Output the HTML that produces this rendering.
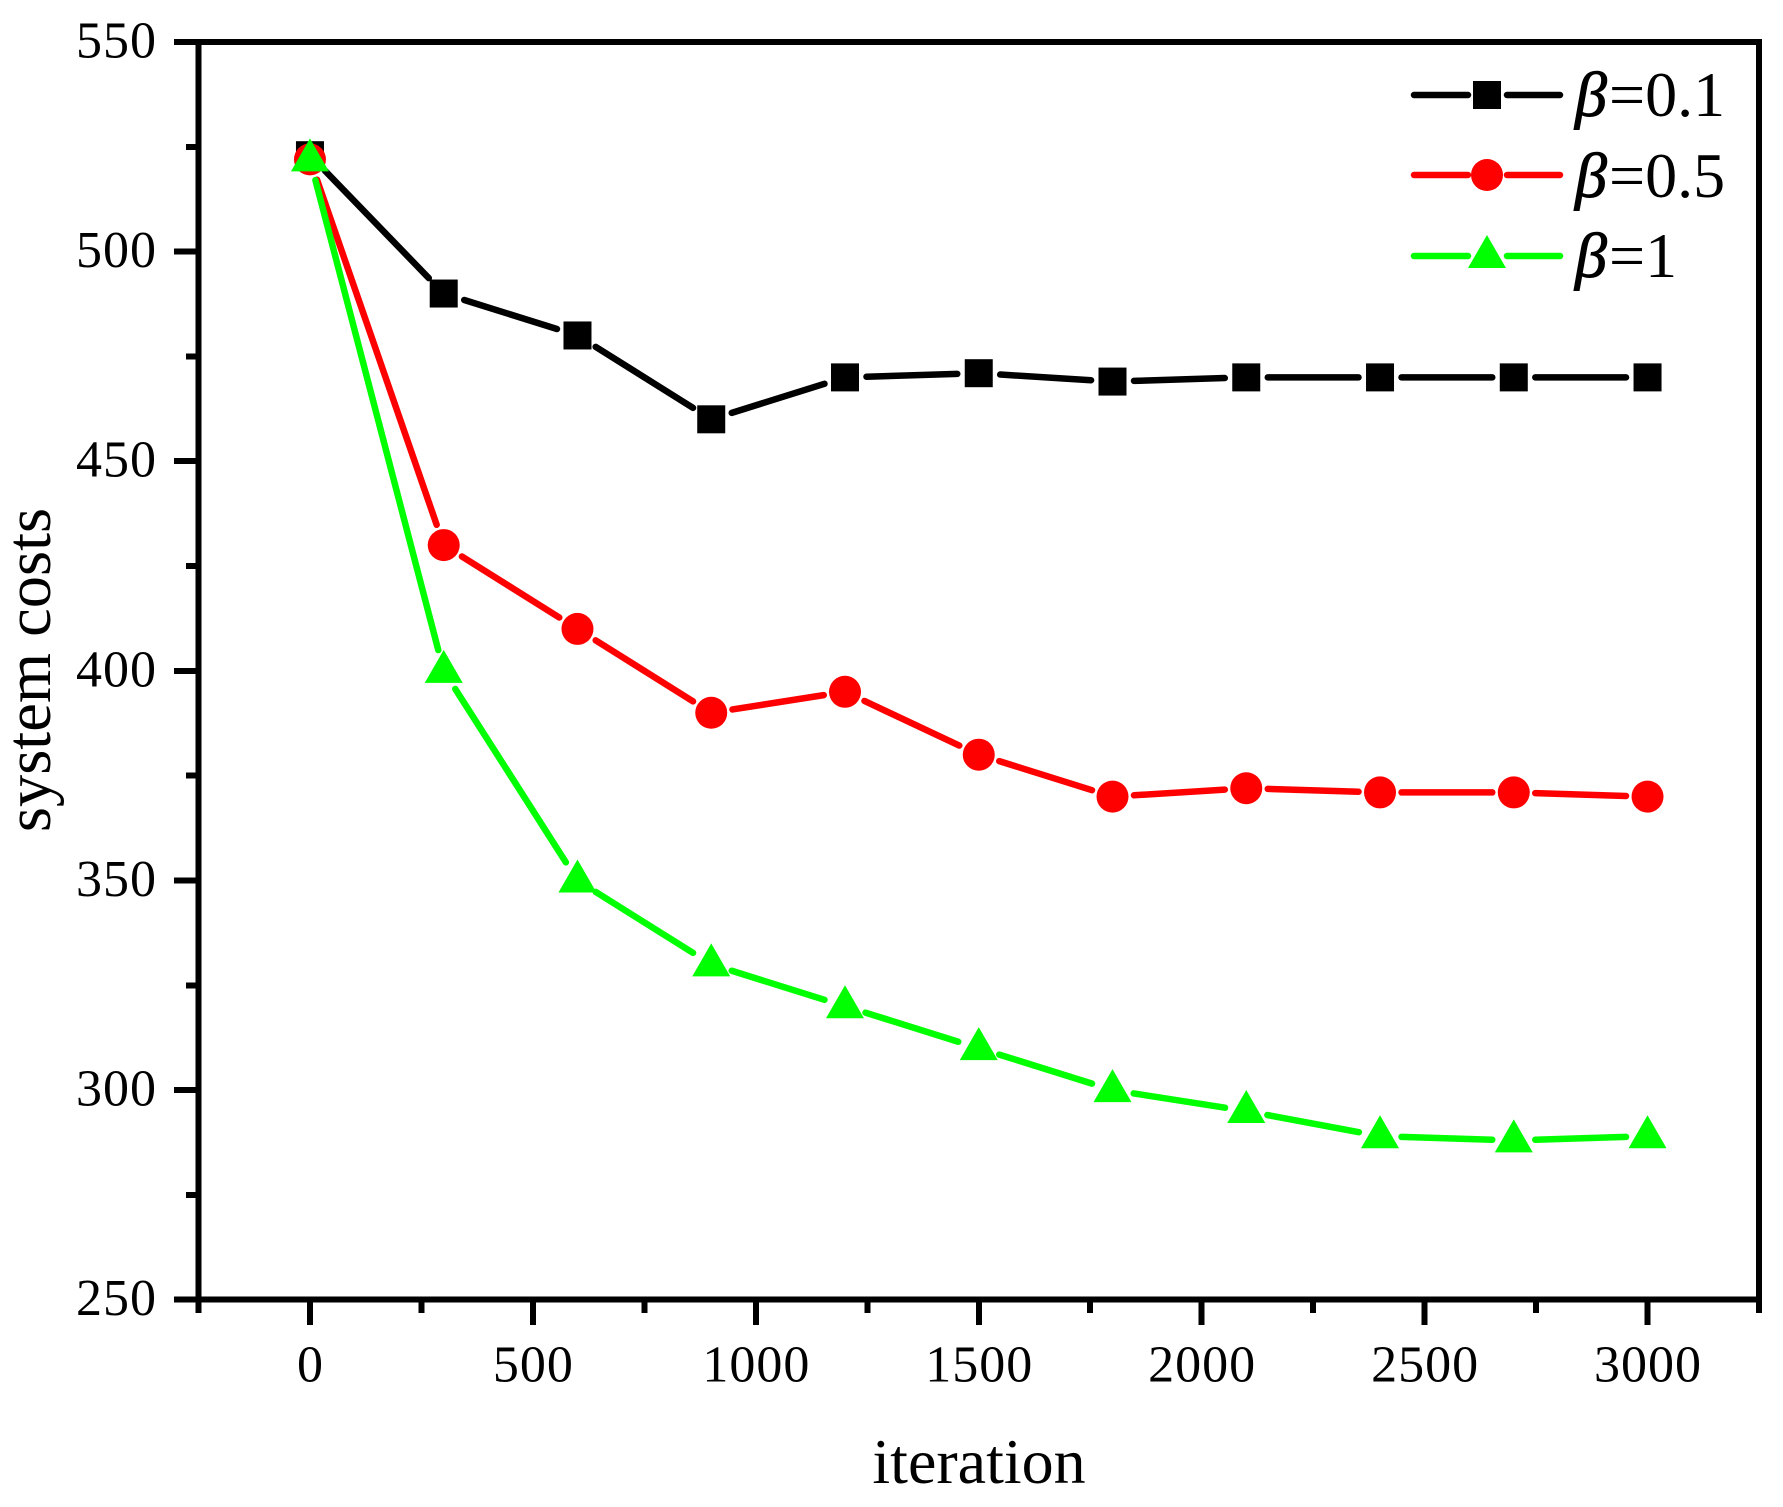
<!DOCTYPE html>
<html lang="en">
<head>
<meta charset="utf-8">
<title>System costs vs iteration</title>
<style>
html,body{margin:0;padding:0;background:#fff;}
svg{display:block;}
text{font-family:"Liberation Serif","Times New Roman",serif;fill:#000;}
</style>
</head>
<body>
<svg id="chart" xmlns="http://www.w3.org/2000/svg" width="1783" height="1507" viewBox="0 0 1783 1507">
  <rect x="0" y="0" width="1783" height="1507" fill="#fff"/>
  <g id="axes"></g>
  <g id="series"></g>
  <g id="legend"></g>
  <text x="979" y="1483" font-size="64" text-anchor="middle">iteration</text>
  <text x="0" y="0" font-size="64.5" text-anchor="middle" transform="translate(50,670) rotate(-90)">system costs</text>
</svg>
<script>
const iterations = [0, 300, 600, 900, 1200, 1500, 1800, 2100, 2400, 2700, 3000];
const beta01Costs = [523, 490, 480, 460, 470, 471, 469, 470, 470, 470, 470];
const beta05Costs = [522, 430, 410, 390, 395, 380, 370, 372, 371, 371, 370];
const beta1Costs = [522, 400, 350, 330, 320, 310, 300, 295, 289, 288, 289];
const seriesNames = ["beta-0.1", "beta-0.5", "beta-1"];
const legendValues = ["0.1", "0.5", "1"];
const xMajorTicks = [0, 500, 1000, 1500, 2000, 2500, 3000];
const xMinorTicks = [-250, 250, 750, 1250, 1750, 2250, 2750, 3250];
const yMajorTicks = [250, 300, 350, 400, 450, 500, 550];
const yMinorTicks = [275, 325, 375, 425, 475, 525];

const NS = "http://www.w3.org/2000/svg";
const plot = {left: 198.5, right: 1759, top: 42, bottom: 1299.7};
const xDomain = [-250, 3250];
const yDomain = [250, 550];
function xScale(v) { return plot.left + (v - xDomain[0]) / (xDomain[1] - xDomain[0]) * (plot.right - plot.left); }
function yScale(v) { return plot.bottom - (v - yDomain[0]) / (yDomain[1] - yDomain[0]) * (plot.bottom - plot.top); }

function mk(parent, tag, attrs) {
  const el = document.createElementNS(NS, tag);
  for (const k in attrs) el.setAttribute(k, attrs[k]);
  parent.appendChild(el);
  return el;
}

const axes = document.getElementById("axes");
const seriesGroup = document.getElementById("series");
const legend = document.getElementById("legend");

function axisLine(x1, y1, x2, y2, w, name) {
  const el = mk(axes, "line", {x1: x1, y1: y1, x2: x2, y2: y2, stroke: "#000", "stroke-width": w, "shape-rendering": "crispEdges"});
  
  
  return el;
}

axisLine(plot.left, plot.top - 3, plot.left, 1313, 6, "y-axis-line");
axisLine(plot.right, plot.top - 3, plot.right, 1313, 6, "right-axis-line");
axisLine(174, plot.top, plot.right + 1, plot.top, 6, "top-axis-line");
axisLine(174, plot.bottom, plot.right + 3, plot.bottom, 6, "x-axis-line");

xMajorTicks.forEach(function (v) {
  const x = xScale(v);
  axisLine(x, plot.bottom, x, 1325, 6, "x-major-tick");
  const t = mk(axes, "text", {x: x + 0.5, y: 1381.5, "font-size": 52, "letter-spacing": 1, "text-anchor": "middle"});
  
  
  t.textContent = String(v);
});
xMinorTicks.forEach(function (v) {
  if (v === xDomain[0] || v === xDomain[1]) return;
  const x = xScale(v);
  axisLine(x, plot.bottom, x, 1313, 6, "x-minor-tick");
});
yMajorTicks.forEach(function (v) {
  const y = yScale(v);
  axisLine(174, y, plot.left, y, 6, "y-major-tick");
  const t = mk(axes, "text", {x: 157, y: y + 15.5, "font-size": 52, "letter-spacing": 1, "text-anchor": "end"});
  
  
  t.textContent = String(v);
});
yMinorTicks.forEach(function (v) {
  const y = yScale(v);
  axisLine(186, y, plot.left, y, 6, "y-minor-tick");
});

function drawMarker(parent, kind, cx, cy, color) {
  let el;
  if (kind === "square") {
    el = mk(parent, "rect", {x: cx - 14, y: cy - 14, width: 28, height: 28, fill: color});
  } else if (kind === "circle") {
    el = mk(parent, "circle", {cx: cx, cy: cy, r: 16, fill: color});
  } else {
    el = mk(parent, "polygon", {points: [cx, cy - 21, cx + 19, cy + 12, cx - 19, cy + 12].join(","), fill: color});
  }
  return el;
}

function drawSegment(parent, x1, y1, x2, y2, gap, color) {
  const dx = x2 - x1, dy = y2 - y1, len = Math.hypot(dx, dy);
  if (len <= 2 * gap) return null;
  const ux = dx / len, uy = dy / len;
  return mk(parent, "line", {
    x1: x1 + ux * gap, y1: y1 + uy * gap,
    x2: x2 - ux * gap, y2: y2 - uy * gap,
    stroke: color, "stroke-width": 6.5, "stroke-linecap": "round"
  });
}

const seriesValues = [beta01Costs, beta05Costs, beta1Costs];
const seriesColors = ["#000000", "#ff0000", "#00ff00"];
const seriesMarkers = ["square", "circle", "triangle"];

seriesValues.forEach(function (values, s) {
  const g = mk(seriesGroup, "g", {});
  
  
  for (let i = 0; i + 1 < values.length; i++) {
    const seg = drawSegment(g, xScale(iterations[i]), yScale(values[i]), xScale(iterations[i + 1]), yScale(values[i + 1]), 21.5, seriesColors[s]);
    if (seg) {
      
      
    }
  }
  values.forEach(function (v, i) {
    const m = drawMarker(g, seriesMarkers[s], xScale(iterations[i]), yScale(v), seriesColors[s]);
    
    
  });
});

const legendRows = [95, 175, 256];
const legendBaselines = [116, 197, 277];
legendRows.forEach(function (cy, s) {
  const g = mk(legend, "g", {});
  
  
  const left = mk(g, "line", {x1: 1414, y1: cy, x2: 1468, y2: cy, stroke: seriesColors[s], "stroke-width": 6.5, "stroke-linecap": "round"});
  
  
  const right = mk(g, "line", {x1: 1507, y1: cy, x2: 1560, y2: cy, stroke: seriesColors[s], "stroke-width": 6.5, "stroke-linecap": "round"});
  
  
  const m = drawMarker(g, seriesMarkers[s], 1487, cy, seriesColors[s]);
  
  
  const t = mk(g, "text", {x: 1575, y: legendBaselines[s], "font-size": 64});
  
  
  const b = mk(t, "tspan", {"font-style": "italic", stroke: "#000", "stroke-width": 1});
  b.textContent = "\u03B2";
  const rest = mk(t, "tspan", {x: 1609});
  rest.textContent = "=" + legendValues[s];
});
</script>
</body>
</html>
